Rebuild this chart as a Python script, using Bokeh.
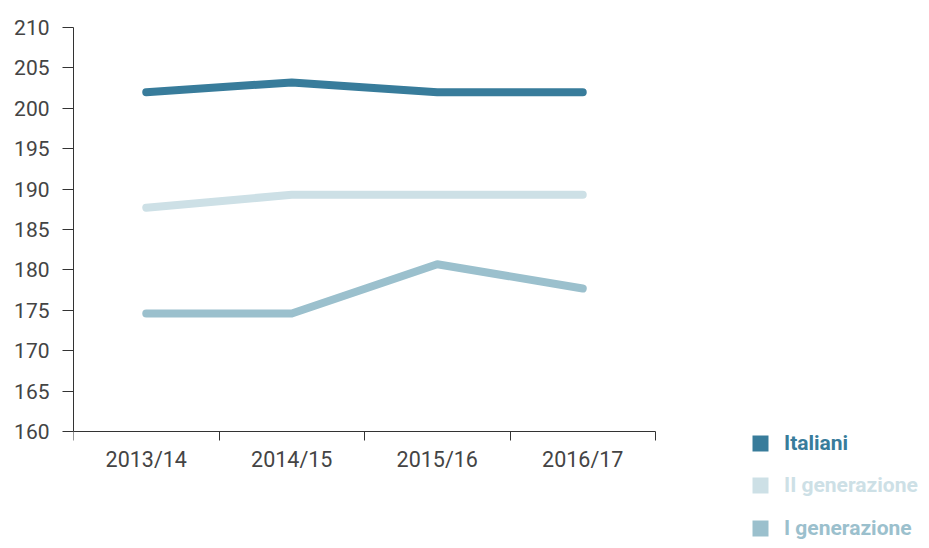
from bokeh.plotting import figure
from bokeh.models import (FixedTicker, Legend, LegendItem, Range1d, ColumnDataSource)
from bokeh.embed import file_html
from bokeh.resources import INLINE

categories = ["2013/14", "2014/15", "2015/16", "2016/17"]
italiani = [202.0, 203.2, 202.0, 202.0]
seconda_gen = [187.7, 189.3, 189.3, 189.3]
prima_gen = [174.6, 174.6, 180.7, 177.7]
y_ticks = [160, 165, 170, 175, 180, 185, 190, 195, 200, 205, 210]
y_min, y_max = 160, 210

series = [
    ("Italiani", italiani, "#387c9b"),
    ("II generazione", seconda_gen, "#cde0e6"),
    ("I generazione", prima_gen, "#9bc0cd"),
]

# layout (pixels)
W, H = 921, 540
left, top = 73, 27
axis_w, axis_h = 582, 404          # drawn axis area
frame_w, frame_h = W - left, H - top

n = len(categories)
xs = [i + 0.5 for i in range(n)]
x_end = n * frame_w / axis_w
y_start = y_max - (y_max - y_min) * frame_h / axis_h

p = figure(width=W, height=H, output_backend="svg", toolbar_location=None,
           x_range=Range1d(0, x_end), y_range=Range1d(y_start, y_max),
           min_border_left=left, min_border_top=top, min_border_right=0,
           min_border_bottom=0)
p.outline_line_color = None
p.xgrid.visible = False
p.ygrid.visible = False

for name, vals, color in series:
    src = ColumnDataSource(dict(x=xs, y=vals))
    p.line("x", "y", source=src, line_color=color, line_width=8,
           line_cap="round", line_join="round")

xa = p.xaxis[0]
xa.fixed_location = y_min
xa.bounds = (0, n)
xa.ticker = FixedTicker(ticks=xs, minor_ticks=list(range(n + 1)))
xa.major_label_overrides = {x: c for x, c in zip(xs, categories)}
xa.major_tick_line_color = None
xa.major_tick_out = 0
xa.major_tick_in = 0
xa.minor_tick_out = 9
xa.minor_tick_in = 0
xa.minor_tick_line_color = "#333333"
xa.axis_line_color = "#333333"
xa.major_label_standoff = 6
xa.major_label_text_font = "Roboto"
xa.major_label_text_font_size = "21.5px"
xa.major_label_text_color = "#444444"

ya = p.yaxis[0]
ya.bounds = (y_min, y_max)
ya.ticker = FixedTicker(ticks=y_ticks)
ya.minor_tick_line_color = None
ya.major_tick_out = 11
ya.major_tick_in = 0
ya.major_tick_line_color = "#333333"
ya.axis_line_color = "#333333"
ya.major_label_standoff = 13
ya.major_label_text_font = "Roboto"
ya.major_label_text_font_size = "21px"
ya.major_label_text_color = "#444444"

nan = float("nan")
legend_bottoms = [85, 43, 0]   # px above the bottom edge
for (name, vals, color), yoff in zip(series, legend_bottoms):
    r = p.quad(left=[nan], right=[nan], top=[nan], bottom=[nan],
               fill_color=color, line_color=None)
    lg = Legend(items=[LegendItem(label=name, renderers=[r])],
                location=(677, yoff), orientation="vertical",
                glyph_width=20, glyph_height=20, label_height=20,
                label_standoff=14, padding=0, margin=0, spacing=0,
                border_line_color=None, background_fill_alpha=0,
                label_text_color=color, label_text_font="Roboto",
                label_text_font_style="bold", label_text_font_size="21px")
    p.add_layout(lg, "center")

open("out.html", "w").write(file_html(p, INLINE))
